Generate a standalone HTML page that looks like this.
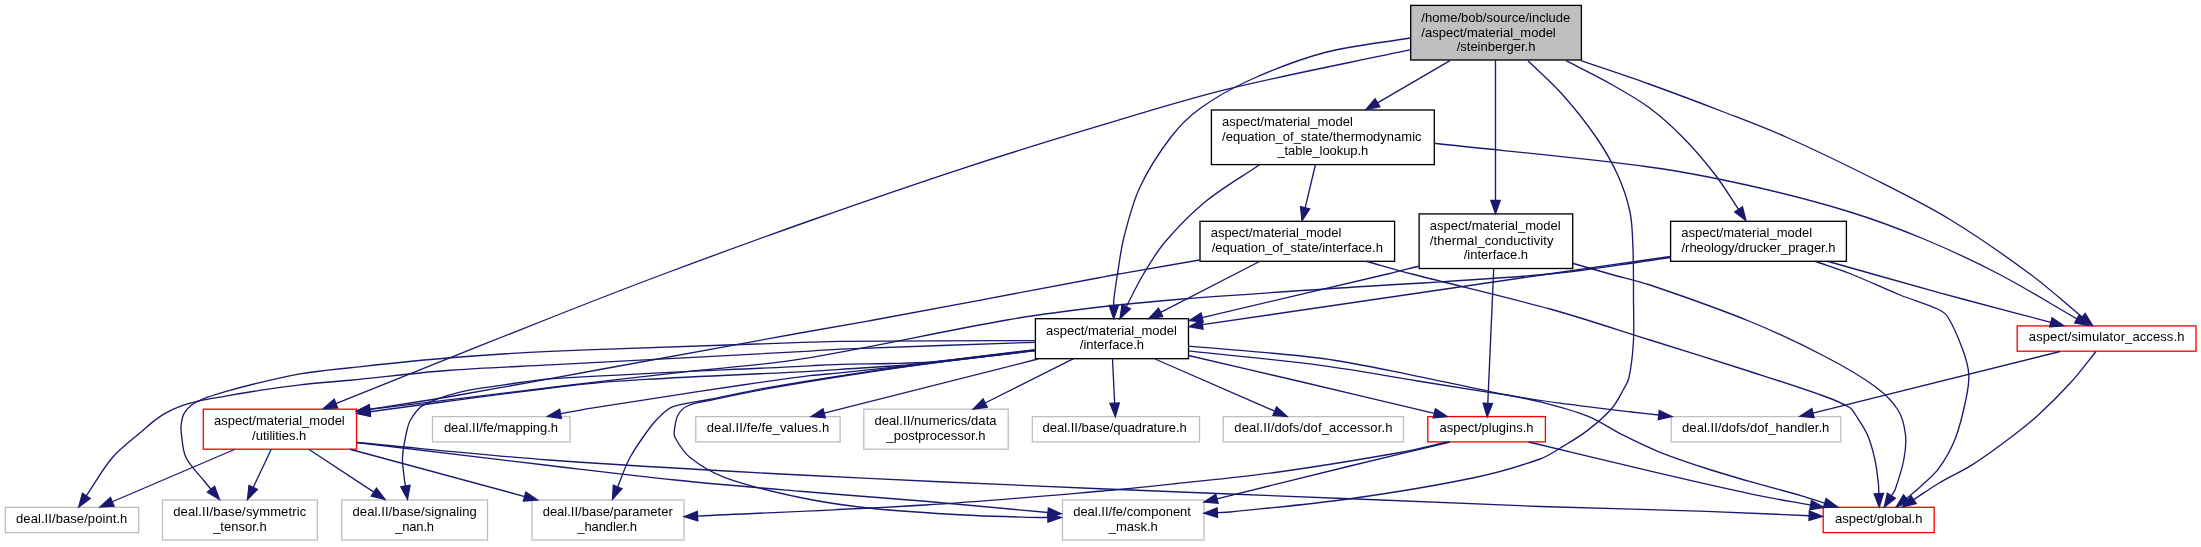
<!DOCTYPE html>
<html><head><meta charset="utf-8"><title>steinberger.h include graph</title>
<style>html,body{margin:0;padding:0;background:#fff}svg{display:block}text{font-family:"Liberation Sans",sans-serif;font-size:13px;fill:#000}.e path{fill:none;stroke:#191970;stroke-width:1.33}.e polygon{fill:#191970;stroke:#191970;stroke-width:1.33}.n rect{stroke-width:1.33}</style></head>
<body>
<svg width="2201" height="547" viewBox="0 0 2201 547">
<rect x="0" y="0" width="2201" height="547" fill="#ffffff"/>
<defs><filter id="ga" x="0" y="0" width="100%" height="100%" filterUnits="userSpaceOnUse"><feOffset dx="0" dy="0"/></filter></defs>
<g class="n">
<rect x="1410.7" y="5.4" width="170.7" height="54.6" fill="#bfbfbf" stroke="#000000"/>
<rect x="1211.4" y="110" width="222.9" height="54.6" fill="#ffffff" stroke="#000000"/>
<rect x="1200" y="221.3" width="194.6" height="40" fill="#ffffff" stroke="#000000"/>
<rect x="1419.1" y="213.9" width="153.6" height="54.6" fill="#ffffff" stroke="#000000"/>
<rect x="1670.6" y="221.3" width="175.8" height="40" fill="#ffffff" stroke="#000000"/>
<rect x="1035.4" y="318.7" width="153.1" height="40" fill="#ffffff" stroke="#000000"/>
<rect x="2017.2" y="325.9" width="178.8" height="25.3" fill="#ffffff" stroke="#ff0000"/>
<rect x="203.3" y="409.2" width="153.3" height="40" fill="#ffffff" stroke="#ff0000"/>
<rect x="432.5" y="416.6" width="137.6" height="25.3" fill="#ffffff" stroke="#bfbfbf"/>
<rect x="695.8" y="416.6" width="144.3" height="25.3" fill="#ffffff" stroke="#bfbfbf"/>
<rect x="863.8" y="409.2" width="144.4" height="40" fill="#ffffff" stroke="#bfbfbf"/>
<rect x="1032.3" y="416.6" width="167.2" height="25.3" fill="#ffffff" stroke="#bfbfbf"/>
<rect x="1223.2" y="416.6" width="180.3" height="25.3" fill="#ffffff" stroke="#bfbfbf"/>
<rect x="1427.8" y="416.6" width="117.6" height="25.3" fill="#ffffff" stroke="#ff0000"/>
<rect x="1671.3" y="416.6" width="169.4" height="25.3" fill="#ffffff" stroke="#bfbfbf"/>
<rect x="5.3" y="507.3" width="133.4" height="25.3" fill="#ffffff" stroke="#bfbfbf"/>
<rect x="162.5" y="500" width="154.8" height="40" fill="#ffffff" stroke="#bfbfbf"/>
<rect x="341.8" y="500" width="145.7" height="40" fill="#ffffff" stroke="#bfbfbf"/>
<rect x="532" y="500" width="152" height="40" fill="#ffffff" stroke="#bfbfbf"/>
<rect x="1062.5" y="500" width="141.5" height="40" fill="#ffffff" stroke="#bfbfbf"/>
<rect x="1823.2" y="507.3" width="111" height="25.3" fill="#ffffff" stroke="#ff0000"/>
</g>
<g class="e">
<path d="M1450,60.7L1377.53,102.8"/><polygon points="1375.18,98.77 1366,109.5 1379.87,106.84"/>
<path d="M1495.5,60L1495.5,200.37"/><polygon points="1490.83,200.37 1495.5,213.7 1500.17,200.37"/>
<path d="M1410.7,38C1382.13,42.83 1353.03,45.17 1325,52.5C1299.24,59.23 1274.3,69.11 1250,80C1232.49,87.84 1215.56,97.28 1200,108.5C1189.01,116.43 1179.23,126.23 1171,137C1159.09,152.58 1148.34,169.25 1140,187C1132.56,202.84 1128.38,220.06 1124,237C1120.86,249.12 1119.51,261.64 1117.5,274C1116.09,282.64 1114.79,291.31 1113.75,300C1113.54,301.78 1113.75,303.58 1113.75,305.37"/><polygon points="1109.08,305.37 1113.75,318.7 1118.42,305.37"/>
<path d="M1410.7,49.7C1349.3,62.93 1287.5,74.43 1226.5,89.4C1182.21,100.27 1138.69,114.12 1095,127.2C1050.85,140.42 1006.79,153.94 963,168.3C912.45,184.88 862.16,202.28 812,220C762.41,237.52 713.01,255.57 663.75,274C625.67,288.24 587.81,303.06 550,318C478.52,346.25 407.25,375.04 335.88,403.55"/><polygon points="334.15,399.22 323.5,408.5 337.61,407.89"/>
<path d="M1528,60.7C1539.33,71.8 1551.45,82.16 1562,94C1574.16,107.64 1585.63,121.96 1596,137C1604.18,148.86 1611.55,161.38 1617.5,174.5C1622.94,186.5 1627.33,199.1 1630,212C1632.54,224.28 1632.5,236.97 1633,249.5C1633.67,266.32 1633.43,283.17 1633.5,300C1633.56,314 1634.21,328.02 1633.4,342C1632.71,353.9 1631.48,365.84 1629,377.5C1628.05,381.99 1625.45,386 1623.2,390C1619.54,396.51 1616.24,403.39 1611.3,409C1604.26,416.99 1596.01,423.87 1587.6,430.4C1580.12,436.21 1571.92,441.02 1563.8,445.9C1556.04,450.56 1548.53,455.96 1540,459C1518.78,466.55 1497.05,472.89 1475,477.5C1433.63,486.15 1391.85,492.86 1350,498.75C1310.15,504.36 1270.03,507.82 1230,512C1225.79,512.44 1221.54,512.41 1217.31,512.61"/><polygon points="1217.09,507.95 1204,513.25 1217.54,517.27"/>
<path d="M1566,60.7C1581.5,68.8 1597.27,76.41 1612.5,85C1624.95,92.02 1637.53,98.98 1649,107.5C1660.94,116.37 1672.06,126.4 1682.5,137C1694.11,148.78 1704.88,161.42 1715,174.5C1723.6,185.61 1730.7,197.8 1738.55,209.45"/><polygon points="1734.68,212.06 1746,220.5 1742.42,206.84"/>
<path d="M1581,60.7C1603.67,68.47 1626.45,75.89 1649,84C1674.46,93.16 1699.77,102.74 1725,112.5C1745.44,120.41 1765.99,128.06 1786,137C1816.02,150.41 1845.63,164.73 1875,179.5C1900.31,192.23 1925.81,204.75 1950,219.5C1977.55,236.3 2004.03,254.85 2030,274C2048.15,287.39 2064.81,302.68 2082.21,317.02"/><polygon points="2079.24,320.63 2092.5,325.5 2085.18,313.42"/>
<path d="M1315.5,164.5L1305.11,207.79"/><polygon points="1300.57,206.7 1302,220.75 1309.65,208.88"/>
<path d="M1260,164.5C1241.67,177 1222.19,187.97 1205,202C1190.39,213.92 1177.25,227.66 1165,242C1156.65,251.77 1150.11,262.98 1143.5,274C1137.16,284.58 1131.98,295.81 1126.22,306.71"/><polygon points="1122.1,304.53 1120,318.5 1130.35,308.89"/>
<path d="M1434,143.25C1505.67,151.17 1577.54,157.39 1649,167C1682.94,171.56 1716.59,178.27 1750,185.75C1783.63,193.28 1817.06,201.88 1850,212C1875.45,219.82 1900.42,229.26 1925,239.5C1950.05,249.94 1974.69,261.43 1998.75,274C2025.38,287.91 2050.88,303.91 2076.94,318.87"/><polygon points="2074.61,322.92 2088.5,325.5 2079.26,314.82"/>
<path d="M1260,261.25L1160.6,312.4"/><polygon points="1158.47,308.25 1148.75,318.5 1162.74,316.55"/>
<path d="M1199.5,260C1172.58,264.67 1145.65,269.25 1118.75,274C1112.15,275.17 1105.59,276.51 1099,277.75C1023.9,291.85 948.84,306.12 873.7,320C849.17,324.53 824.55,328.56 800,333C733.31,345.06 666.67,357.38 600,369.5C553.01,378.04 506.06,386.85 459,395C429.31,400.14 399.51,404.59 369.76,409.38"/><polygon points="369.02,404.77 356.6,411.5 370.5,413.99"/>
<path d="M1366,261.25C1381.33,265.5 1396.6,270 1412,274C1457.93,285.92 1504.27,296.32 1550,309C1583.63,318.33 1616.69,329.59 1650,340C1683.36,350.42 1716.74,360.76 1750,371.5C1775.08,379.6 1800.23,387.52 1825,396.5C1833.59,399.61 1842.11,403.15 1850,407.75C1852.3,409.09 1853.56,411.76 1855,414C1859.4,420.85 1864.25,427.53 1867.5,435C1870.97,442.98 1873.13,451.5 1875,460C1876.81,468.22 1877.56,476.64 1878.5,485C1878.82,487.88 1878.7,490.79 1878.8,493.68"/><polygon points="1874.13,493.84 1879.25,507 1883.46,493.52"/>
<path d="M1418.75,266.25C1408.33,268.83 1397.94,271.53 1387.5,274C1325.75,288.63 1263.95,303.03 1202.18,317.55"/><polygon points="1201.11,313 1189.2,320.6 1203.24,322.1"/>
<path d="M1493.75,268.5L1487.79,403.38"/><polygon points="1483.12,403.18 1487.2,416.7 1492.45,403.59"/>
<path d="M1572.5,263.25C1585,266.83 1597.48,270.49 1610,274C1623.31,277.74 1636.9,280.56 1650,285C1683.6,296.4 1717.15,308.08 1750,321.5C1775.54,331.93 1800.52,343.77 1825,356.5C1842.24,365.47 1859.32,375.01 1875,386.5C1883.84,392.98 1892.17,400.72 1898,410C1902.63,417.36 1904.51,426.36 1905.5,435C1906.45,443.3 1905.32,451.79 1903.75,460C1901.8,470.23 1898.41,480.16 1895,490C1894.26,492.14 1892.58,493.82 1891.37,495.73"/><polygon points="1887.43,493.24 1884.25,507 1895.32,498.23"/>
<path d="M1670.5,256.5C1628.67,262.5 1586.82,268.41 1545,274.5C1430.78,291.13 1316.59,307.95 1202.39,324.67"/><polygon points="1201.71,320.05 1189.2,326.6 1203.07,329.29"/>
<path d="M1670.5,257.5C1663.67,258.5 1656.84,259.56 1650,260.5C1616.68,265.06 1583.51,271.06 1550,274C1475.12,280.57 1399.99,283.9 1325,289C1277.49,292.23 1229.97,295.2 1182.5,299C1154.96,301.2 1127.43,303.72 1100,307C1068.85,310.72 1037.7,314.62 1006.8,320C937.68,332.03 869.28,348.09 800,359.2C760.5,365.54 720.45,367.81 680.7,372.3C644.25,376.41 607.82,380.65 571.4,385C504.2,393.02 437.02,401.27 369.83,409.4"/><polygon points="369.27,404.76 356.6,411 370.39,414.03"/>
<path d="M1827.5,261.25C1842.5,265.5 1857.49,269.8 1872.5,274C1902.49,282.38 1932.45,290.85 1962.5,299C1991.9,306.97 2021.41,314.56 2050.86,322.35"/><polygon points="2049.67,326.86 2063.75,325.75 2052.06,317.83"/>
<path d="M1815,261.25C1827,265.5 1839.17,269.3 1851,274C1867.52,280.56 1883.53,288.33 1900,295C1912.37,300 1925.34,303.5 1937.5,309C1941.3,310.72 1945.29,312.97 1947.5,316.5C1953.82,326.62 1958.36,337.81 1962.5,349C1965.48,357.06 1968.15,365.43 1968.75,374C1969.34,382.36 1967.72,390.79 1966,399C1963.19,412.46 1960.22,426 1955.2,438.8C1951.08,449.3 1945.48,459.31 1938.8,468.4C1933.3,475.88 1925.8,481.68 1919,488C1915.02,491.7 1910.65,494.97 1906.48,498.46"/><polygon points="1903.49,494.87 1896.25,507 1909.47,502.04"/>
<path d="M1035.4,350C1015.27,352.4 995.13,354.81 975,357.2C960.33,358.94 945.68,360.78 931,362.4C920.68,363.54 910.36,364.71 900,365.5C880.02,367.02 860,368.01 840,369.3C830,369.94 820.01,370.78 810,371.3C755.01,374.15 699.97,376.13 645,379.4C620.29,380.87 595.58,382.61 571,385.5C503.83,393.4 436.88,403.02 369.82,411.77"/><polygon points="369.21,407.14 356.6,413.5 370.42,416.4"/>
<path d="M1035.4,350.3C1015.27,352.7 995.13,355.11 975,357.5C960.33,359.24 945.67,360.99 931,362.7C914,364.69 897.01,366.69 880,368.6C866.67,370.09 853.34,371.55 840,372.9C830.01,373.91 819.97,374.46 810,375.7C787.46,378.5 764.97,381.66 742.5,385C691.63,392.56 640.79,400.34 590,408.4C580.12,409.97 570.34,412.05 560.51,413.87"/><polygon points="559.66,409.28 547.4,416.3 561.36,418.46"/>
<path d="M1038,359L824.17,413.22"/><polygon points="823.02,408.7 811.25,416.5 825.32,417.75"/>
<path d="M1073.6,358.7L985.12,403.03"/><polygon points="983.03,398.85 973.2,409 987.21,407.2"/>
<path d="M1112.5,359L1114.65,403.19"/><polygon points="1109.99,403.41 1115.3,416.5 1119.32,402.96"/>
<path d="M1155,359L1274.78,411.18"/><polygon points="1272.91,415.46 1287,416.5 1276.64,406.9"/>
<path d="M1188.5,355.5C1225.67,364.17 1262.85,372.75 1300,381.5C1344.8,392.05 1389.55,402.78 1434.33,413.42"/><polygon points="1433.25,417.96 1447.3,416.5 1435.41,408.87"/>
<path d="M1188.5,350.9C1233.2,355.8 1278.02,359.74 1322.6,365.6C1354.41,369.78 1385.93,375.92 1417.6,381C1441.39,384.82 1465.19,388.59 1489,392.3C1512.66,395.99 1536.28,399.92 1560,403.2C1583.79,406.49 1607.66,409.14 1631.5,412C1640.57,413.09 1649.67,414.02 1658.75,415.03"/><polygon points="1658.24,419.67 1672,416.5 1659.27,410.39"/>
<path d="M1188.5,346.2C1233.2,350.3 1278.09,352.65 1322.6,358.5C1354.54,362.7 1385.99,370.07 1417.6,376.3C1441.46,381 1465.2,386.32 1489,391.3C1506,394.85 1523.17,397.65 1540,401.9C1556.06,405.96 1572.22,410.04 1587.6,416.2C1600.09,421.2 1611.17,429.19 1623.2,435.2C1634.94,441.06 1646.72,446.92 1658.9,451.8C1674.48,458.04 1690.44,463.31 1706.4,468.5C1722.15,473.62 1738.09,478.13 1754,482.7C1769.79,487.23 1785.71,491.26 1801.5,495.8C1809.31,498.04 1817.01,500.63 1824.77,503.04"/><polygon points="1823.38,507.5 1837.5,507 1826.16,498.58"/>
<path d="M1035.4,342.3C970.27,344.57 905.12,346.56 840,349.1C829.99,349.49 820.01,350.55 810,351.1C723.34,355.82 636.67,360.29 550,364.9C516.67,366.67 483.28,367.7 450,370.25C416.6,372.81 383.34,377.02 350,380.25C333.34,381.87 316.63,382.91 300,384.8C285.75,386.42 271.58,388.64 257.4,390.8C246.41,392.47 235.46,394.42 224.5,396.3C217.19,397.55 209.83,398.57 202.6,400.2C195.22,401.87 187.83,403.66 180.7,406.2C174.98,408.24 169.5,410.93 164.2,413.9C160.29,416.09 156.74,418.86 153.2,421.6C149.8,424.23 146.63,427.15 143.4,430C133.06,439.12 121.53,447.08 112.5,457.5C102.34,469.24 95.01,483.16 86.26,495.99"/><polygon points="82.4,493.36 78.75,507 90.12,498.62"/>
<path d="M1035.4,340.6C970.27,340.87 905.13,340.94 840,341.4C830,341.47 820,341.86 810,342.2C723.33,345.19 636.64,347.66 550,351.4C516.63,352.84 483.29,355.03 450,357.75C416.61,360.48 383.31,364.19 350,367.75C333.31,369.54 316.56,371.04 300,373.8C285.66,376.19 271.54,379.81 257.4,383.2C246.37,385.84 235.39,388.74 224.5,391.9C217.12,394.04 209.73,396.24 202.6,399.1C198.72,400.66 194.88,402.51 191.6,405.1C188.54,407.52 185.72,410.45 183.9,413.9C182.15,417.21 181.62,421.08 181.2,424.8C180.82,428.18 181.01,431.63 181.5,435C182.61,442.57 182.58,450.66 186,457.5C190.62,466.74 198.61,473.88 205,482C206.94,484.46 209,486.82 211,489.24"/><polygon points="207.4,492.22 219.5,499.5 214.59,486.26"/>
<path d="M1035.4,349.7C1015.27,352.07 995.13,354.43 975,356.8C960.33,358.53 945.72,360.84 931,362C917.37,363.07 903.67,363.15 890,363.5C873.34,363.92 856.66,363.82 840,364.3C829.99,364.59 820,365.3 810,365.8C723.33,370.13 636.61,373.44 550,378.8C535.23,379.71 520.63,382.43 506,384.6C490.3,386.93 474.4,388.44 459,392.3C446.61,395.4 434.19,399.25 423,405.4C417.87,408.22 414.49,413.59 411.3,418.5C409.07,421.93 407.9,426.01 407,430C404.96,439.06 402.96,448.22 402.5,457.5C402.12,465.02 403.73,472.51 404.5,480C404.71,482.04 405.13,484.05 405.45,486.08"/><polygon points="400.83,486.8 407.5,499.25 410.06,485.36"/>
<path d="M1035.4,350.5C1000.6,354.67 965.76,358.54 931,363C903.96,366.47 876.96,370.23 850,374.3C822.62,378.43 795.26,382.73 768,387.6C748.19,391.14 728.54,395.55 708.8,399.5C696.87,401.89 684.57,402.83 673,406.6C668.44,408.09 664.85,411.77 661.3,415C657.14,418.78 653.33,422.98 650,427.5C642.87,437.18 635.74,446.94 630,457.5C624.91,466.85 621.77,477.14 617.65,486.96"/><polygon points="613.35,485.15 612.5,499.25 621.96,488.76"/>
<path d="M1035.4,350.7C1000.6,354.9 965.76,358.74 931,363.3C903.95,366.85 876.96,370.82 850,375C822.62,379.25 795.26,383.66 768,388.6C748.19,392.19 728.48,396.35 708.8,400.6C701.61,402.15 694.06,402.88 687.4,406C683.47,407.84 680.07,411.19 678,415C675.55,419.52 675.08,424.9 674.4,430C674.07,432.49 673.76,435.32 675,437.5C679.11,444.75 683.49,452.29 690,457.5C700.49,465.89 712.37,472.91 725,477.5C749.32,486.34 774.67,492.22 800,497.5C824.75,502.66 849.85,506.16 875,508.75C908.23,512.17 941.64,513.73 975,515.5C996.65,516.65 1018.33,516.91 1040,517.5C1042.64,517.57 1045.28,517.5 1047.92,517.5"/><polygon points="1047.92,522.17 1061.25,517.5 1047.92,512.83"/>
<path d="M2060,351.5L1812.93,413.03"/><polygon points="1811.81,408.5 1800,416.25 1814.06,417.56"/>
<path d="M2096,351.5C2087.5,361.93 2079.56,372.85 2070.5,382.8C2060.04,394.28 2049.06,405.32 2037.5,415.7C2027.06,425.08 2015.83,433.57 2004.6,442C1993.88,450.05 1983.06,457.99 1971.7,465.1C1961.09,471.74 1949.55,476.79 1938.8,483.2C1930.19,488.33 1922.03,494.19 1913.65,499.69"/><polygon points="1911.09,495.79 1902.5,507 1916.21,503.6"/>
<path d="M235,449.25L112.26,501.76"/><polygon points="110.42,497.46 100,507 114.09,506.05"/>
<path d="M271.25,449.25L253.2,487.45"/><polygon points="248.97,485.45 247.5,499.5 257.42,489.44"/>
<path d="M308.75,449.25L373.87,492.16"/><polygon points="371.3,496.06 385,499.5 376.44,488.27"/>
<path d="M350,449.25L524.63,496.52"/><polygon points="523.41,501.03 537.5,500 525.85,492.01"/>
<path d="M356.6,442.5C420.73,450.17 484.85,457.95 549,465.5C590.99,470.45 632.94,475.69 675,480C716.62,484.27 758.32,487.71 800,491.25C841.65,494.79 883.35,497.68 925,501.25C966.01,504.77 1006.98,508.77 1047.98,512.53"/><polygon points="1047.55,517.18 1061.25,513.75 1048.4,507.88"/>
<path d="M356.6,442.5C420.73,448.33 484.77,455.29 549,460C632.59,466.13 716.3,470.63 800,475C899.97,480.22 999.99,484.43 1100,488.75C1183.32,492.35 1266.67,495.39 1350,498.75C1413.33,501.3 1476.65,504.27 1540,506.5C1595.46,508.45 1650.94,509.4 1706.4,511.3C1740.67,512.47 1774.92,514.25 1809.18,515.73"/><polygon points="1808.98,520.39 1822.5,516.3 1809.38,511.06"/>
<path d="M1447.5,442C1431.67,445.5 1415.97,449.68 1400,452.5C1358.45,459.85 1316.8,466.7 1275,472.5C1241.78,477.11 1208.35,480.18 1175,483.75C1150.02,486.43 1125.03,489.12 1100,491.25C1041.7,496.21 983.4,501.39 925,505C849.24,509.68 773.38,512.4 697.56,516.1"/><polygon points="697.34,511.44 684.25,516.75 697.79,520.76"/>
<path d="M1450,442C1416.67,450 1383.3,457.88 1350,466C1305.62,476.82 1261.29,487.87 1216.94,498.81"/><polygon points="1215.82,494.27 1204,502 1218.06,503.34"/>
<path d="M1528.75,442C1572.13,452.4 1615.46,463.06 1658.9,473.2C1690.54,480.59 1722.2,487.92 1754,494.6C1772.79,498.55 1791.76,501.58 1810.64,505.08"/><polygon points="1809.79,509.67 1823.75,507.5 1811.49,500.48"/>
</g>
<g class="t" filter="url(#ga)">
<text x="1421.37" y="21.7">/home/bob/source/include</text><text x="1421.37" y="36.5">/aspect/material_model</text><text x="1496.05" y="51" text-anchor="middle">/steinberger.h</text>
<text x="1222.07" y="126">aspect/material_model</text><text x="1222.07" y="141">/equation_of_state/thermodynamic</text><text x="1322.85" y="155" text-anchor="middle" textLength="90.9" lengthAdjust="spacing">_table_lookup.h</text>
<text x="1210.67" y="237">aspect/material_model</text><text x="1297.3" y="252" text-anchor="middle">/equation_of_state/interface.h</text>
<text x="1429.77" y="230">aspect/material_model</text><text x="1429.77" y="245" textLength="123.7" lengthAdjust="spacing">/thermal_conductivity</text><text x="1495.9" y="259" text-anchor="middle">/interface.h</text>
<text x="1681.27" y="237">aspect/material_model</text><text x="1758.5" y="252" text-anchor="middle" textLength="153.9" lengthAdjust="spacing">/rheology/drucker_prager.h</text>
<text x="1046.07" y="335">aspect/material_model</text><text x="1111.95" y="349" text-anchor="middle">/interface.h</text>
<text x="2106.6" y="341" text-anchor="middle" textLength="155.6" lengthAdjust="spacing">aspect/simulator_access.h</text>
<text x="213.97" y="425">aspect/material_model</text><text x="279.15" y="440" text-anchor="middle">/utilities.h</text>
<text x="501" y="432" text-anchor="middle">deal.II/fe/mapping.h</text>
<text x="767.95" y="432" text-anchor="middle" textLength="122.4" lengthAdjust="spacing">deal.II/fe/fe_values.h</text>
<text x="874.47" y="425" textLength="122.1" lengthAdjust="spacing">deal.II/numerics/data</text><text x="936" y="440" text-anchor="middle">_postprocessor.h</text>
<text x="1114.7" y="432" text-anchor="middle" textLength="144.2" lengthAdjust="spacing">deal.II/base/quadrature.h</text>
<text x="1313.35" y="432" text-anchor="middle" textLength="158.1" lengthAdjust="spacing">deal.II/dofs/dof_accessor.h</text>
<text x="1486.6" y="432" text-anchor="middle">aspect/plugins.h</text>
<text x="1755.7" y="432" text-anchor="middle" textLength="147.2" lengthAdjust="spacing">deal.II/dofs/dof_handler.h</text>
<text x="71.7" y="523" text-anchor="middle" textLength="111.3" lengthAdjust="spacing">deal.II/base/point.h</text>
<text x="173.17" y="516" textLength="133.1" lengthAdjust="spacing">deal.II/base/symmetric</text><text x="239.9" y="531" text-anchor="middle">_tensor.h</text>
<text x="352.47" y="516" textLength="124.3" lengthAdjust="spacing">deal.II/base/signaling</text><text x="414.65" y="531" text-anchor="middle" textLength="38.9" lengthAdjust="spacing">_nan.h</text>
<text x="542.67" y="516">deal.II/base/parameter</text><text x="607.2" y="531" text-anchor="middle" textLength="59.6" lengthAdjust="spacing">_handler.h</text>
<text x="1073.17" y="516">deal.II/fe/component</text><text x="1133.25" y="531" text-anchor="middle">_mask.h</text>
<text x="1878.7" y="523" text-anchor="middle">aspect/global.h</text>
</g>
</svg>
</body></html>
